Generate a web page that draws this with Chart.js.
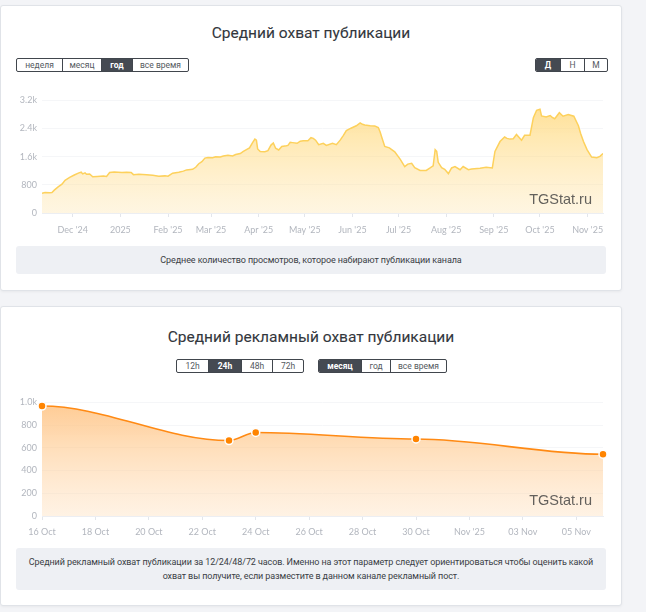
<!doctype html>
<html lang="ru">
<head>
<meta charset="UTF-8" />
<title>Средний охват публикации</title>
<script src="https://cdn.jsdelivr.net/npm/chart.js@4.4.4/dist/chart.umd.min.js"></script>
<style>
  body {
    margin: 0;
    width: 646px;
    height: 612px;
    position: relative;
    overflow: hidden;
    background: #f3f4f7;
    font-family: Roboto, "Noto Sans", sans-serif;
  }
  .card {
    position: absolute;
    left: 0;
    width: 622px;
    background: #fff;
    border: 1px solid #e0e3e8;
    border-radius: 3px;
    box-shadow: 0 1px 3px rgba(0, 0, 0, 0.05);
    box-sizing: border-box;
  }
  .title {
    position: absolute;
    left: 0;
    width: 622px;
    text-align: center;
    font-size: 15.5px;
    line-height: 18px;
    font-weight: 400;
    color: #33373d;
    -webkit-text-stroke: 0.1px #33373d;
  }
  .btns {
    position: absolute;
    display: flex;
    height: 14px;
    border: 1px solid #41464d;
    border-radius: 2px;
    box-sizing: border-box;
    overflow: hidden;
  }
  .btns span {
    display: block;
    font-size: 8.5px;
    line-height: 12px;
    text-align: center;
    color: #555a61;
    border-left: 1px solid #41464d;
    box-sizing: border-box;
  }
  .btns span:first-child { border-left: none; }
  .btns span.on { background: #454a52; color: #fff; font-weight: 700; }
  .note {
    position: absolute;
    left: 16px;
    width: 590px;
    background: #eef0f4;
    border-radius: 3px;
    font-size: 9px;
    letter-spacing: -0.1px;
    line-height: 14px;
    color: #3a3e44;
    text-align: center;
    white-space: nowrap;
    box-sizing: border-box;
  }
  .chart { position: absolute; left: 0; width: 620px; }
  .mark {
    position: absolute;
    width: 100px;
    text-align: right;
    font-family: "Liberation Sans", Arial, sans-serif;
    font-size: 14.5px;
    color: rgba(60, 60, 60, 0.8);
  }
</style>
</head>
<body>
  <div class="card" style="top:5px;height:286px"></div>
  <div class="card" style="top:306px;height:300px"></div>

  <div class="title" style="top:24px">Средний охват публикации</div>
  <div class="btns" style="left:16px;top:58px">
    <span style="width:45px">неделя</span><span style="width:39px">месяц</span><span class="on" style="width:31px">год</span><span style="width:56px">все время</span>
  </div>
  <div class="btns" style="left:535px;top:58px">
    <span class="on" style="width:24px">Д</span><span style="width:24px">Н</span><span style="width:23px">М</span>
  </div>
  <div class="chart" style="top:90px;height:150px"><canvas id="reachChart"></canvas></div>
  <div class="mark" style="left:492px;top:191px">TGStat.ru</div>
  <div class="note" style="top:246px;height:28px;padding-top:7px">Среднее количество просмотров, которое набирают публикации канала</div>

  <div class="title" style="top:328px">Средний рекламный охват публикации</div>
  <div class="btns" style="left:176px;top:359px">
    <span style="width:31px">12h</span><span class="on" style="width:33px">24h</span><span style="width:31px">48h</span><span style="width:31px">72h</span>
  </div>
  <div class="btns" style="left:318px;top:359px">
    <span class="on" style="width:42px">месяц</span><span style="width:29px">год</span><span style="width:56px">все время</span>
  </div>
  <div class="chart" style="top:392px;height:146px"><canvas id="adChart"></canvas></div>
  <div class="mark" style="left:492px;top:492px">TGStat.ru</div>
  <div class="note" style="top:548px;height:42px;padding-top:7px">Средний рекламный охват публикации за 12/24/48/72 часов. Именно на этот параметр следует ориентироваться чтобы оценить какой<br>охват вы получите, если разместите в данном канале рекламный пост.</div>

<script>
// chart 1: days since 11 Nov 2024
const reachDays = [0, 2, 5, 6.5, 8, 10.5, 13, 15, 18, 21, 24, 25.5, 26.5, 28, 29, 31, 33, 36, 40, 42,
  44, 47, 52, 55, 58, 59.5, 63, 68, 72, 76, 80, 82, 85, 89, 92, 94, 98, 100, 102, 104,
  106, 108, 111, 113, 116, 118, 121, 124, 126, 129, 131, 133, 135, 137, 138.5, 139.5, 140.3, 142, 145, 147,
  149, 150.5, 152, 154, 156, 159, 160, 161.5, 163, 166, 168, 170, 173, 175, 176.5, 178, 180, 183, 185, 189,
  191.5, 194, 196, 198, 201, 204.5, 207, 208.5, 210, 213.5, 216.5, 218.8, 220, 221, 223, 226, 229.5, 233, 236, 238,
  240.5, 242.5, 246, 250, 252.5, 254.5, 255.8, 256.8, 257.8, 260, 262, 264.4, 266.5, 268.7, 272, 274, 277.4, 279.5, 285, 289,
  293, 294.7, 298, 301, 302.5, 304.5, 306.6, 308.7, 312, 314, 317.5, 319.7, 321.8, 324, 325, 328, 330.6, 332, 333.6, 336.6,
  339, 342.4, 346, 349, 350.5, 352.3, 354.6, 357.6, 361, 363, 365];
const reachValues = [560, 580, 575, 580, 650, 740, 820, 930, 1010, 1080, 1140, 1160, 1110, 1140, 1100, 1110, 1030, 1040, 1050, 1040,
  1150, 1165, 1150, 1160, 1150, 1090, 1100, 1090, 1070, 1045, 1055, 1045, 1130, 1160, 1190, 1225, 1240, 1300, 1400, 1460,
  1560, 1575, 1570, 1600, 1590, 1620, 1640, 1620, 1660, 1690, 1750, 1800, 1850, 2000, 2100, 2070, 1820, 1750, 1740, 1770,
  1930, 1990, 1840, 1790, 1890, 1910, 1920, 2010, 2000, 1980, 2040, 2050, 2055, 2140, 2120, 2070, 1940, 1980, 1920, 1980,
  1940, 2070, 2200, 2340, 2410, 2480, 2560, 2520, 2500, 2480, 2470, 2430, 2300, 2160, 1890, 1850, 1740, 1530, 1320, 1390,
  1410, 1290, 1210, 1210, 1280, 1340, 1800, 1750, 1440, 1290, 1240, 1120, 1280, 1320, 1230, 1320, 1230, 1250, 1270, 1300,
  1280, 1750, 2030, 2160, 2120, 2100, 2110, 2230, 2070, 2210, 2210, 2710, 2920, 2950, 2760, 2730, 2770, 2720, 2680, 2850,
  2750, 2800, 2750, 2480, 2250, 2030, 1800, 1590, 1570, 1610, 1690];
const monthDays = [20, 51, 82, 110, 141, 171, 202, 232, 263, 294, 324, 355];
const monthLabels = ["Dec '24", '2025', "Feb '25", "Mar '25", "Apr '25", "May '25", "Jun '25", "Jul '25", "Aug '25", "Sep '25", "Oct '25", "Nov '25"];
const reachTicks = [0, 800, 1600, 2400, 3200];
const reachTickLabels = ['0', '800', '1.6k', '2.4k', '3.2k'];

// chart 2: days since 16 Oct 2025
const adDays = [0, 7, 8, 14, 21];
const adValues = [968, 664, 735, 678, 544];
const adTickDays = [0, 2, 4, 6, 8, 10, 12, 14, 16, 18, 20];
const adTickLabels = ['16 Oct', '18 Oct', '20 Oct', '22 Oct', '24 Oct', '26 Oct', '28 Oct', '30 Oct', "Nov '25", '03 Nov', '05 Nov'];
const adTicks = [0, 200, 400, 600, 800, 1000];
const adTickLabelsY = ['0', '200', '400', '600', '800', '1.0k'];

const tickFont = { family: 'Lato', size: 9 };
const tickColor = '#b2b6be';

function vGradient(top, bottom) {
  return (c) => {
    const area = c.chart.chartArea;
    if (!area) return top;
    const g = c.chart.ctx.createLinearGradient(0, area.top, 0, area.bottom);
    g.addColorStop(0, top);
    g.addColorStop(1, bottom);
    return g;
  };
}

function scalesFor(xVals, xLabels, xMax, yVals, yLabels, yMax, xHeight, xPad) {
  return {
    x: {
      type: 'linear',
      min: 0,
      max: xMax,
      afterBuildTicks: (axis) => { axis.ticks = xVals.map((v) => ({ value: v })); },
      afterFit: (axis) => { axis.height = xHeight; },
      ticks: {
        autoSkip: false, maxRotation: 0, padding: xPad,
        font: tickFont, color: tickColor,
        callback: (v, i) => xLabels[i]
      },
      grid: { drawOnChartArea: false, drawTicks: true, tickLength: 4, color: '#e3e6eb' },
      border: { color: '#eceef2' }
    },
    y: {
      min: 0,
      max: yMax,
      afterBuildTicks: (axis) => { axis.ticks = yVals.map((v) => ({ value: v })); },
      afterFit: (axis) => { axis.width = 42; },
      ticks: {
        padding: 5, font: tickFont, color: tickColor,
        callback: (v, i) => yLabels[i]
      },
      grid: { drawTicks: false, color: '#f5f6f8' },
      border: { display: false }
    }
  };
}

new Chart(document.getElementById('reachChart'), {
  type: 'line',
  data: {
    datasets: [{
      data: reachDays.map((d, i) => ({ x: d, y: reachValues[i] })),
      borderColor: '#fdd15c',
      borderWidth: 1.5,
      backgroundColor: vGradient('rgba(255, 213, 110, 0.75)', 'rgba(255, 226, 160, 0.3)'),
      fill: 'origin',
      pointRadius: 0,
      tension: 0
    }]
  },
  options: {
    responsive: true,
    maintainAspectRatio: false,
    animation: false,
    layout: { padding: { left: 0, right: 17, top: 7, bottom: 0 } },
    plugins: { legend: { display: false }, tooltip: { enabled: false } },
    scales: scalesFor(monthDays, monthLabels, 365, reachTicks, reachTickLabels, 3200, 27, 8)
  }
});

// flat tangents at every point, like the original widget's smoothing
const flatCurve = {
  id: 'flatCurve',
  beforeDatasetsDraw(chart) {
    chart.getSortedVisibleDatasetMetas().forEach((meta) => {
      const pts = meta.data;
      meta.dataset.updateControlPoints(chart.chartArea, 'x');
      pts.forEach((p, i) => {
        const prev = pts[i - 1];
        const next = pts[i + 1];
        p.cp1x = prev ? p.x - (p.x - prev.x) / 3 : p.x;
        p.cp1y = p.y;
        p.cp2x = next ? p.x + (next.x - p.x) / 3 : p.x;
        p.cp2y = p.y;
      });
    });
  }
};

new Chart(document.getElementById('adChart'), {
  type: 'line',
  data: {
    datasets: [{
      data: adDays.map((d, i) => ({ x: d, y: adValues[i] })),
      borderColor: '#ff8a14',
      borderWidth: 1.6,
      backgroundColor: vGradient('rgba(255, 190, 120, 0.8)', 'rgba(255, 220, 180, 0.35)'),
      fill: 'origin',
      tension: 0.4,
      pointRadius: 4,
      pointBackgroundColor: '#ff8400',
      pointBorderColor: '#ffffff',
      pointBorderWidth: 1.5,
      clip: false
    }]
  },
  options: {
    responsive: true,
    maintainAspectRatio: false,
    animation: false,
    layout: { padding: { left: 0, right: 17, top: 7, bottom: 0 } },
    plugins: { legend: { display: false }, tooltip: { enabled: false } },
    scales: scalesFor(adTickDays, adTickLabels, 21, adTicks, adTickLabelsY, 1000, 22, 7)
  },
  plugins: [flatCurve]
});
</script>
</body>
</html>
